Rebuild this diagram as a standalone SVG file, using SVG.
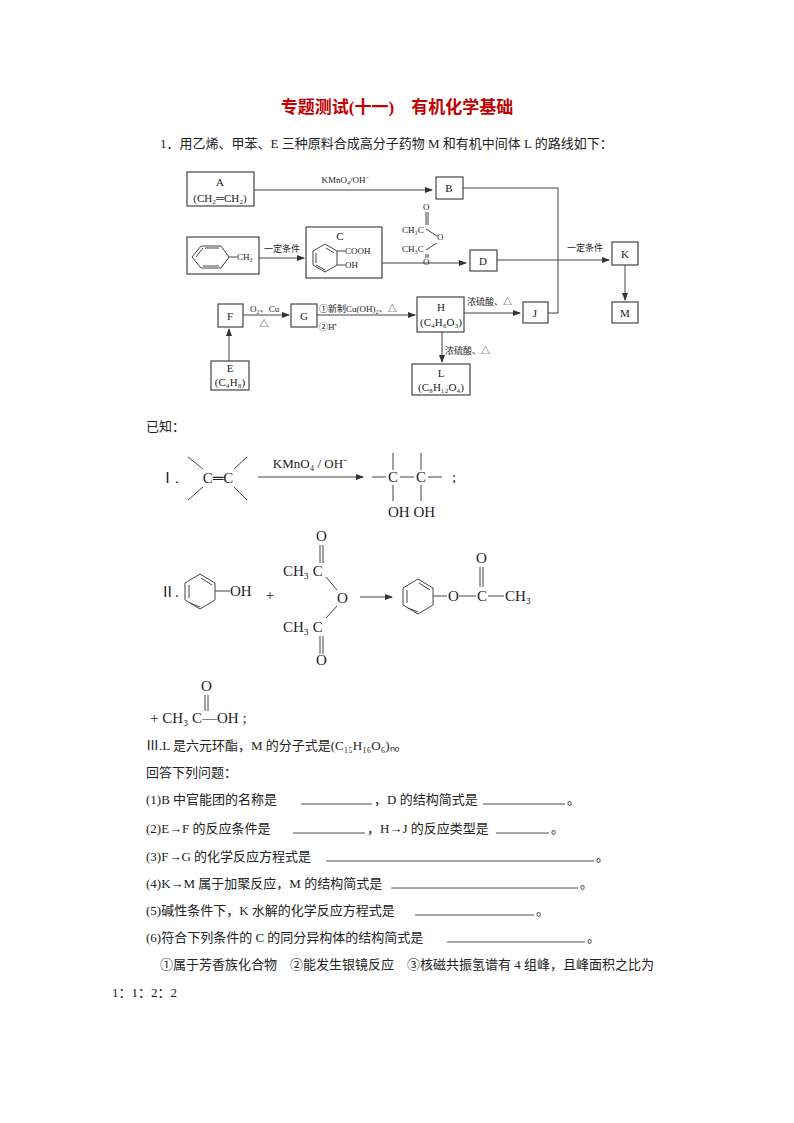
<svg xmlns="http://www.w3.org/2000/svg" width="794" height="1123" viewBox="0 0 794 1123">
<defs>
<marker id="ar" markerWidth="8" markerHeight="6" refX="7" refY="3" orient="auto" markerUnits="userSpaceOnUse"><path d="M0,0 L8,3 L0,6 z" fill="#333"/></marker>
<style>
text{font-family:"Liberation Serif","Noto Sans CJK SC",serif;fill:#222}
.s{font-size:9px}.m{font-size:11px}.t{font-size:13px}.c{font-size:15px}
.b{fill:#fff;stroke:#444;stroke-width:1.2}
.l{stroke:#444;stroke-width:1;fill:none}
.u{stroke:#222;stroke-width:0.8}
</style>
</defs>
<rect width="794" height="1123" fill="#fff"/>
<text x="397" y="113" text-anchor="middle" style="font-size:17px;font-weight:bold;fill:#c00000">专题测试(十一)　有机化学基础</text>
<text x="160" y="148" class="t">1．用乙烯、甲苯、E 三种原料合成高分子药物 M 和有机中间体 L 的路线如下：</text>
<g id="connectors">
<path class="l" d="M254,190 H432" marker-end="url(#ar)"/>
<path class="l" d="M463,188 H558 V313 H548"/>
<path class="l" d="M259,258 H304" marker-end="url(#ar)"/>
<path class="l" d="M382,263 H466" marker-end="url(#ar)"/>
<path class="l" d="M497,260 H609" marker-end="url(#ar)"/>
<path class="l" d="M625,265 V300" marker-end="url(#ar)"/>
<path class="l" d="M243,315 H289" marker-end="url(#ar)"/>
<path class="l" d="M317,315 H415" marker-end="url(#ar)"/>
<path class="l" d="M464,313 H520" marker-end="url(#ar)"/>
<path class="l" d="M229,361 V329" marker-end="url(#ar)"/>
<path class="l" d="M442,332 V362" marker-end="url(#ar)"/>
<text x="345" y="183" class="s" text-anchor="middle">KMnO₄/OH⁻</text>
<text x="282" y="252" class="s" text-anchor="middle">一定条件</text>
<text x="585" y="251" class="s" text-anchor="middle">一定条件</text>
<text x="250" y="312" class="s">O₂、Cu</text>
<text x="264" y="327" class="s" text-anchor="middle">△</text>
<text x="319" y="312" class="s">①新制Cu(OH)₂、△</text>
<text x="319" y="330" class="s">②H⁺</text>
<text x="467" y="305" class="s">浓硫酸、△</text>
<text x="445" y="354" class="s">浓硫酸、△</text>
<g class="s">
<text x="423" y="210">O</text><path class="l" d="M426,212 V225 M428,212 V225"/>
<text x="402" y="233">CH₃C</text><path class="l" d="M426,229 L437,236"/>
<text x="437" y="240">O</text><path class="l" d="M426,250 L437,243"/>
<text x="402" y="252">CH₃C</text>
<path class="l" d="M426,254 V258 M428,254 V258"/>
<text x="423" y="265">O</text>
</g>
</g>
<g id="A"><rect class="b" x="187" y="172" width="67" height="34"/><text x="220" y="186" class="m" text-anchor="middle">A</text><text x="220" y="202" class="m" text-anchor="middle">(CH₂═CH₂)</text></g>
<g id="B"><rect class="b" x="436" y="177" width="27" height="22"/><text x="449" y="192" class="m" text-anchor="middle">B</text></g>
<g id="toluene"><rect class="b" x="187" y="237" width="72" height="37"/>
<path class="l" d="M192,257 L201,246 H221 L229,257 L221,268 H201 Z M196,257 L203,248 M219,248 H205 M203,266 H219"/><path class="l" d="M229,257 H237"/><text x="237" y="260" class="s">CH₃</text></g>
<g id="C"><rect class="b" x="306" y="227" width="76" height="51"/>
<text x="340" y="240" class="m" text-anchor="middle">C</text>
<path class="l" d="M325,244 L337,251 V265 L325,272 L313,265 V251 Z M316,253 V263 M326,248 L334,253 M316,265 L325,270"/>
<path class="l" d="M337,251 H345 M337,265 H345"/><text x="345" y="254" class="s">COOH</text><text x="345" y="268" class="s">OH</text></g>
<g id="D"><rect class="b" x="470" y="250" width="27" height="21"/><text x="483" y="265" class="m" text-anchor="middle">D</text></g>
<g id="K"><rect class="b" x="612" y="242" width="26" height="23"/><text x="625" y="258" class="m" text-anchor="middle">K</text></g>
<g id="M"><rect class="b" x="612" y="302" width="26" height="21"/><text x="625" y="317" class="m" text-anchor="middle">M</text></g>
<g id="F"><rect class="b" x="218" y="304" width="25" height="23"/><text x="230" y="320" class="m" text-anchor="middle">F</text></g>
<g id="G"><rect class="b" x="291" y="304" width="26" height="23"/><text x="304" y="320" class="m" text-anchor="middle">G</text></g>
<g id="H"><rect class="b" x="417" y="297" width="47" height="35"/><text x="441" y="311" class="m" text-anchor="middle">H</text><text x="441" y="326" class="m" text-anchor="middle">(C₄H₈O₃)</text></g>
<g id="J"><rect class="b" x="523" y="302" width="25" height="21"/><text x="535" y="317" class="m" text-anchor="middle">J</text></g>
<g id="E"><rect class="b" x="211" y="361" width="38" height="29"/><text x="230" y="372" class="m" text-anchor="middle">E</text><text x="230" y="386" class="m" text-anchor="middle">(C₄H₈)</text></g>
<g id="L"><rect class="b" x="412" y="364" width="58" height="31"/><text x="441" y="377" class="m" text-anchor="middle">L</text><text x="441" y="391" class="m" text-anchor="middle">(C₈H₁₂O₄)</text></g>

<text x="146" y="431" class="t">已知：</text>
<g id="known1">
<text x="160" y="483" class="c">Ⅰ.</text>
<path class="l" d="M188,457 L203,469 M188,500 L203,487 M247,457 L234,469 M247,500 L234,487"/>
<text x="218" y="483" class="c" text-anchor="middle">C═C</text>
<path class="l" d="M258,477 H363" marker-end="url(#ar)"/>
<text x="310" y="468" class="t" text-anchor="middle">KMnO₄ / OH⁻</text>
<path class="l" d="M372,477 H386 M400,477 H414 M428,477 H442 M393,453 V470 M421,453 V470 M393,485 V501 M421,485 V501"/>
<text x="393" y="482" class="c" text-anchor="middle">C</text><text x="421" y="482" class="c" text-anchor="middle">C</text>
<text x="388" y="517" class="c">OH OH</text>
<text x="452" y="482" class="c">;</text>
</g>
<g id="known2">
<text x="160" y="597" class="c">Ⅱ.</text>
<path class="l" d="M200,574 L215,583 V600 L200,609 L185,600 V583 Z M189,585 V598 M201,578 L212,585 M190,603 L200,607"/>
<path class="l" d="M215,591 H230"/><text x="230" y="596" class="c">OH</text>
<text x="270" y="600" class="c" text-anchor="middle">+</text>
<text x="316" y="541" class="c">O</text><path class="l" d="M320,545 V563 M323,545 V563"/>
<text x="283" y="576" class="c">CH₃ C</text><path class="l" d="M326,577 L337,590"/>
<text x="337" y="603" class="c">O</text><path class="l" d="M337,606 L326,618"/>
<text x="283" y="632" class="c">CH₃ C</text><path class="l" d="M320,636 V654 M323,636 V654"/>
<text x="316" y="665" class="c">O</text>
<path class="l" d="M360,597 H392" marker-end="url(#ar)"/>
<path class="l" d="M418,579 L433,588 V605 L418,614 L403,605 V588 Z M407,590 V603 M419,583 L430,590 M408,608 L418,612"/>
<path class="l" d="M433,596 H447 M459,596 H476 M488,596 H504"/>
<text x="448" y="601" class="c">O</text><text x="477" y="601" class="c">C</text>
<text x="476" y="563" class="c">O</text><path class="l" d="M480,567 V587 M483,567 V587"/>
<text x="505" y="601" class="c">CH₃</text>
<text x="150" y="723" class="c">+ CH₃ C—OH ;</text>
<text x="201" y="691" class="c">O</text><path class="l" d="M205,695 V711 M208,695 V711"/>
</g>
<g class="t">
<text x="146" y="750">Ⅲ.L 是六元环酯，M 的分子式是(C₁₅H₁₆O₆)ₙ。</text>
<text x="146" y="777">回答下列问题：</text>
<text x="146" y="804">(1)B 中官能团的名称是</text><line class="u" x1="301" y1="804" x2="372" y2="804"/><text x="374" y="804">，D 的结构简式是</text><line class="u" x1="483" y1="804" x2="565" y2="804"/><text x="567" y="804">。</text>
<text x="146" y="833">(2)E→F 的反应条件是</text><line class="u" x1="293" y1="833" x2="365" y2="833"/><text x="367" y="833">，H→J 的反应类型是</text><line class="u" x1="496" y1="833" x2="549" y2="833"/><text x="551" y="833">。</text>
<text x="146" y="861">(3)F→G 的化学反应方程式是</text><line class="u" x1="326" y1="861" x2="594" y2="861"/><text x="596" y="861">。</text>
<text x="146" y="888">(4)K→M 属于加聚反应，M 的结构简式是</text><line class="u" x1="391" y1="888" x2="578" y2="888"/><text x="580" y="888">。</text>
<text x="146" y="915">(5)碱性条件下，K 水解的化学反应方程式是</text><line class="u" x1="415" y1="915" x2="534" y2="915"/><text x="536" y="915">。</text>
<text x="146" y="942">(6)符合下列条件的 C 的同分异构体的结构简式是</text><line class="u" x1="447" y1="942" x2="585" y2="942"/><text x="587" y="942">。</text>
<text x="160" y="969">①属于芳香族化合物　②能发生银镜反应　③核磁共振氢谱有 4 组峰，且峰面积之比为</text>
<text x="112" y="997">1：1：2：2</text>
</g>
</svg>
